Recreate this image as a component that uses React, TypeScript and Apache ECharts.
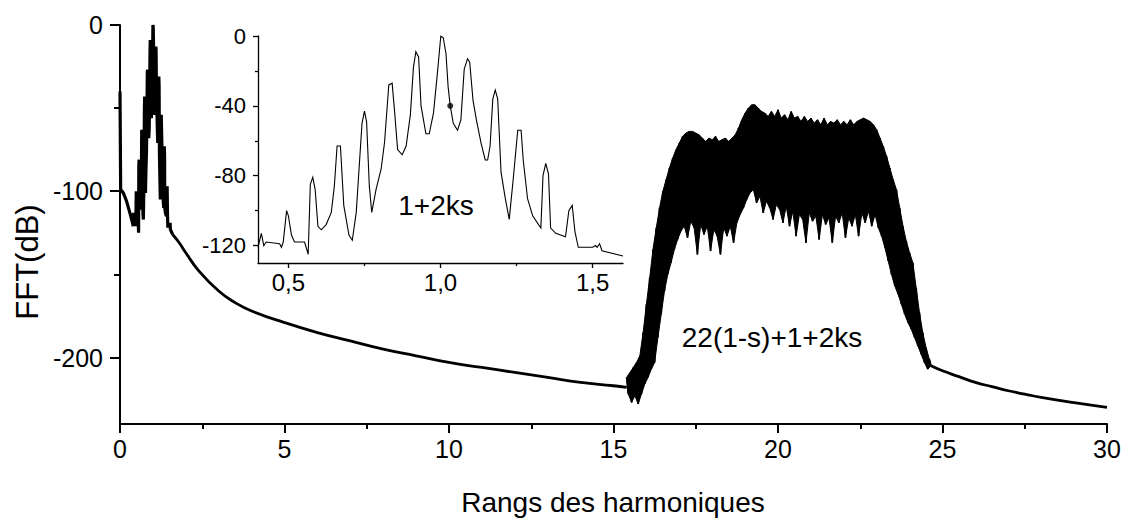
import React, { useEffect, useRef } from "react";
import * as echarts from "echarts";

// ---------- data ----------
const mainXTicks = [0, 5, 10, 15, 20, 25, 30];
const mainYLabels = [-200, -100, 0];
const mainYMinor = [-150, -50];
const insetXLabels = [0.5, 1.0, 1.5];
const insetXMinor = [0.75, 1.25];
const insetYLabels = [-120, -80, -40, 0];
const insetYMinor = [-100, -60, -20];

// spike at the origin and low-frequency descent (x, dB)
const startSeg = [
  [0, -40], [0.02, -99], [0.1, -101], [0.2, -106], [0.3, -113], [0.38, -119],
];

// fundamental with 1+2ks side bands (x, dB) — used in main chart and in inset
const fundamental = [
  [0.4, -121], [0.411, -113], [0.419, -120], [0.427, -118], [0.471, -119], [0.477, -121],
  [0.483, -118], [0.494, -100], [0.5, -103], [0.51, -114], [0.52, -118], [0.553, -118],
  [0.565, -125], [0.572, -85], [0.58, -81], [0.588, -88], [0.597, -109], [0.608, -111],
  [0.624, -108], [0.641, -101], [0.651, -86], [0.66, -63], [0.671, -63], [0.682, -97],
  [0.699, -114], [0.71, -117], [0.723, -101], [0.733, -74], [0.742, -50], [0.75, -43],
  [0.757, -49], [0.766, -86], [0.774, -101], [0.788, -88], [0.805, -76], [0.816, -61],
  [0.83, -28], [0.841, -27], [0.849, -43], [0.859, -65], [0.874, -68], [0.887, -63],
  [0.901, -45], [0.911, -18], [0.919, -9], [0.928, -12], [0.936, -40], [0.952, -56],
  [0.963, -56], [0.977, -44], [0.99, -21], [1.001, 0], [1.009, -1], [1.018, -10],
  [1.025, -29], [1.032, -40], [1.042, -50], [1.056, -54], [1.067, -48], [1.078, -19],
  [1.089, -13], [1.096, -15], [1.107, -37], [1.118, -48], [1.133, -61], [1.147, -71],
  [1.155, -71], [1.163, -63], [1.172, -36], [1.18, -31], [1.188, -36], [1.199, -78],
  [1.213, -93], [1.226, -105], [1.239, -82], [1.254, -54], [1.265, -54], [1.272, -71],
  [1.286, -93], [1.303, -103], [1.33, -110], [1.337, -80], [1.346, -73], [1.355, -79],
  [1.362, -110], [1.379, -113], [1.411, -115], [1.422, -100], [1.433, -97], [1.442, -112],
  [1.453, -121], [1.5, -121], [1.51, -120], [1.515, -121], [1.523, -119], [1.531, -123],
  [1.6, -126],
];

const markedPoint = [[1.032, -40]];

// smooth decay between the fundamental and the slot-harmonic band
const decay = [
  [1.6, -126], [1.8, -131], [2.0, -137], [2.4, -148], [3.0, -160], [3.5, -167],
  [4.0, -172], [5, -179], [6, -185], [7, -190], [8, -195], [9, -199], [10, -203],
  [11, -206], [12, -209], [13, -212], [14, -215], [15, -217], [15.4, -218],
];

// slot-harmonic band: x, upper value, lower value (dB)
const band = [
  [15.4, -212, -222], [15.5, -209, -227], [15.6, -206, -223], [15.7, -203, -228],
  [15.8, -199, -222], [15.9, -185, -216], [16.0, -168, -212], [16.1, -152, -207],
  [16.2, -135, -203], [16.3, -122, -188], [16.4, -110, -174], [16.5, -100, -160],
  [16.6, -93, -150], [16.7, -86, -143], [16.8, -80, -135], [16.9, -75, -129],
  [17.0, -71, -124], [17.1, -67, -121], [17.2, -65, -128], [17.3, -64, -118],
  [17.4, -64, -122], [17.5, -65, -138], [17.6, -66, -120], [17.7, -68, -126],
  [17.8, -70, -121], [17.9, -68, -136], [18.0, -69, -123], [18.1, -67, -127],
  [18.2, -70, -138], [18.3, -69, -122], [18.4, -68, -127], [18.5, -70, -121],
  [18.6, -68, -131], [18.7, -66, -119], [18.8, -62, -114], [18.9, -57, -110],
  [19.0, -53, -105], [19.1, -50, -101], [19.2, -48, -99], [19.3, -48, -107],
  [19.4, -50, -103], [19.5, -52, -113], [19.6, -53, -106], [19.7, -55, -110],
  [19.8, -52, -117], [19.9, -55, -108], [20.0, -51, -111], [20.1, -56, -119],
  [20.2, -54, -109], [20.3, -57, -121], [20.4, -52, -112], [20.5, -56, -127],
  [20.6, -55, -114], [20.7, -58, -117], [20.8, -55, -131], [20.9, -58, -113],
  [21.0, -56, -118], [21.1, -59, -115], [21.2, -57, -129], [21.3, -60, -114],
  [21.4, -56, -120], [21.5, -60, -116], [21.6, -58, -131], [21.7, -59, -115],
  [21.8, -57, -119], [21.9, -60, -113], [22.0, -58, -128], [22.1, -60, -116],
  [22.2, -57, -121], [22.3, -60, -114], [22.4, -58, -127], [22.5, -57, -113],
  [22.6, -56, -119], [22.7, -57, -112], [22.8, -58, -121], [22.9, -60, -114],
  [23.0, -63, -122], [23.1, -68, -127], [23.2, -73, -134], [23.3, -79, -142],
  [23.4, -86, -150], [23.5, -93, -157], [23.6, -99, -162], [23.7, -110, -168],
  [23.8, -121, -174], [23.9, -130, -179], [24.0, -137, -183], [24.1, -143, -188],
  [24.2, -158, -193], [24.3, -173, -198], [24.4, -185, -203], [24.5, -194, -207],
  [24.6, -201, -205],
];

// smooth tail after the band
const tail = [
  [24.65, -205], [25, -208], [25.5, -211.5], [26, -215], [26.5, -217.5],
  [27, -220], [27.5, -222], [28, -224], [29, -227.2], [30, -230],
];

const FONT = "'Liberation Sans', Arial, Helvetica, sans-serif";

export default function App() {
  const ref = useRef<HTMLDivElement>(null);

  useEffect(() => {
    if (!ref.current) return;
    const chart = echarts.init(ref.current, undefined, { renderer: "svg" });

    // oscillating band: alternate between upper and lower readings
    const bandLine: number[][] = [];
    band.forEach(([x, hi, lo]) => {
      bandLine.push([x, hi]);
      bandLine.push([x + 0.05, lo]);
    });
    const lowPart = [...startSeg, ...fundamental];

    const black = "#000";
    const lineS = (data: number[][], width: number, xi: number, yi: number, smooth = false) => ({
      type: "line",
      data,
      xAxisIndex: xi,
      yAxisIndex: yi,
      showSymbol: false,
      symbol: "none",
      smooth,
      lineStyle: { color: black, width, join: "miter" },
      itemStyle: { color: black },
      silent: true,
    });

    const noZero = { onZero: false };

    const option: any = {
      animation: false,
      backgroundColor: "#fff",
      grid: [
        { left: 120, right: 26, top: 25, bottom: 97 },
        { left: 258, top: 36, width: 365, height: 227 },
      ],
      xAxis: [
        {
          type: "value", gridIndex: 0, min: 0, max: 30, interval: 5, position: "bottom",
          axisLine: { ...noZero, lineStyle: { color: black, width: 2 } },
          axisTick: { length: 9, lineStyle: { color: black, width: 2 }, customValues: mainXTicks },
          minorTick: { show: true, splitNumber: 2, length: 5, lineStyle: { color: black, width: 2 } },
          axisLabel: { color: black, fontSize: 25, fontFamily: FONT, margin: 12, customValues: mainXTicks },
          splitLine: { show: false },
          minorSplitLine: { show: false },
        },
        {
          type: "value", gridIndex: 1, min: 0.4, max: 1.6, position: "bottom",
          axisLine: { ...noZero, lineStyle: { color: black, width: 1.3 } },
          axisTick: { length: 5, lineStyle: { color: black, width: 1.3 }, customValues: insetXLabels },
          axisLabel: {
            color: black, fontSize: 24, fontFamily: FONT, margin: 7, customValues: insetXLabels,
            formatter: (v: number) => v.toFixed(1).replace(".", ","),
          },
          splitLine: { show: false },
        },
        {
          type: "value", gridIndex: 1, min: 0.4, max: 1.6, position: "bottom",
          axisLine: { show: false, onZero: false },
          axisTick: { length: 3, lineStyle: { color: black, width: 1.3 }, customValues: insetXMinor },
          axisLabel: { show: false },
          splitLine: { show: false },
        },
      ],
      yAxis: [
        {
          type: "value", gridIndex: 0, min: -240, max: 0, position: "left",
          axisLine: { show: true, ...noZero, lineStyle: { color: black, width: 2 } },
          axisTick: { show: true, length: 10, lineStyle: { color: black, width: 2 }, customValues: mainYLabels },
          axisLabel: { color: black, fontSize: 25, fontFamily: FONT, margin: 17, customValues: mainYLabels },
          splitLine: { show: false },
        },
        {
          type: "value", gridIndex: 0, min: -240, max: 0, position: "left",
          axisLine: { show: false, onZero: false },
          axisTick: { show: true, length: 6, lineStyle: { color: black, width: 2 }, customValues: mainYMinor },
          axisLabel: { show: false },
          splitLine: { show: false },
        },
        {
          type: "value", gridIndex: 1, min: -130, max: 0, position: "left",
          axisLine: { show: true, ...noZero, lineStyle: { color: black, width: 1.3 } },
          axisTick: { show: true, length: 5, lineStyle: { color: black, width: 1.3 }, customValues: insetYLabels },
          axisLabel: { color: black, fontSize: 22, fontFamily: FONT, margin: 12, customValues: insetYLabels },
          splitLine: { show: false },
        },
        {
          type: "value", gridIndex: 1, min: -130, max: 0, position: "left",
          axisLine: { show: false, onZero: false },
          axisTick: { show: true, length: 3, lineStyle: { color: black, width: 1.3 }, customValues: insetYMinor },
          axisLabel: { show: false },
          splitLine: { show: false },
        },
      ],
      series: [
        {
          // filled core of the slot-harmonic band, between upper and lower readings
          type: "custom",
          xAxisIndex: 0,
          yAxisIndex: 0,
          silent: true,
          data: [band[0]],
          encode: { x: 0, y: 1 },
          renderItem: (_params: any, api: any) => {
            const upper = band.map((r) => api.coord([r[0], r[1]]));
            const lower = band.slice().reverse().map((r) => api.coord([r[0] + 0.05, r[2]]));
            return {
              type: "polygon",
              shape: { points: upper.concat(lower) },
              style: { fill: black, stroke: black, lineWidth: 1 },
            };
          },
        },
        lineS(lowPart, 3.2, 0, 0),
        lineS(decay, 2.8, 0, 0, true),
        lineS(bandLine, 1.8, 0, 0),
        lineS(tail, 2.8, 0, 0, true),
        lineS(fundamental, 1.1, 1, 2),
        {
          type: "scatter", xAxisIndex: 1, yAxisIndex: 2, data: markedPoint,
          symbolSize: 6, itemStyle: { color: black }, silent: true,
        },
      ],
      graphic: [
        {
          type: "text", x: 27, y: 262, rotation: Math.PI / 2,
          style: { text: "FFT(dB)", fontSize: 31, fontFamily: FONT, fill: black, align: "center", verticalAlign: "middle" },
        },
        {
          type: "text", x: 613, y: 502,
          style: { text: "Rangs des harmoniques", fontSize: 28, fontFamily: FONT, fill: black, align: "center", verticalAlign: "middle" },
        },
        {
          type: "text", x: 436, y: 205,
          style: { text: "1+2ks", fontSize: 28, fontFamily: FONT, fill: black, align: "center", verticalAlign: "middle" },
        },
        {
          type: "text", x: 772, y: 337,
          style: { text: "22(1-s)+1+2ks", fontSize: 28, fontFamily: FONT, fill: black, align: "center", verticalAlign: "middle" },
        },
      ],
    };

    chart.setOption(option);
    return () => chart.dispose();
  }, []);

  return (
    <div
      ref={ref}
      style={{ position: "fixed", left: 0, top: 0, width: 1133, height: 521, background: "#fff" }}
    />
  );
}
